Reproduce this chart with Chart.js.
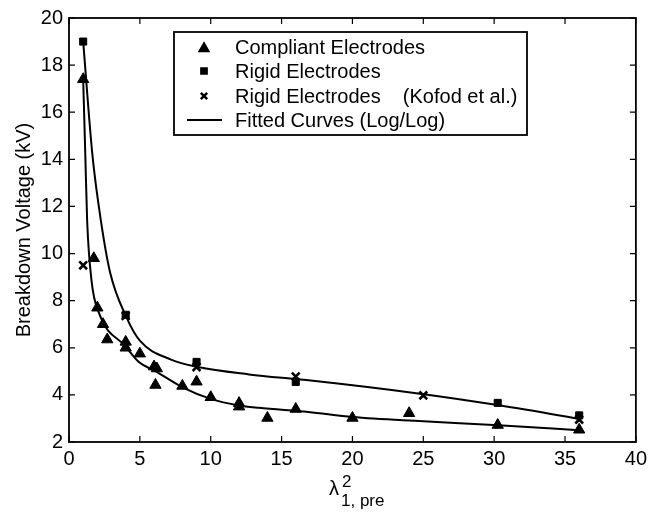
<!DOCTYPE html>
<html>
<head>
<meta charset="utf-8">
<script src="https://cdn.jsdelivr.net/npm/chart.js@4.4.1/dist/chart.umd.min.js"></script>
<style>
  html, body { margin: 0; padding: 0; background: #fff; }
  #wrap { width: 652px; height: 512px; }
</style>
</head>
<body>
<div id="wrap"><canvas id="chart" width="652" height="512"></canvas></div>
<script>
// measured points, compliant electrodes (triangles)
const compliantX = [1, 1.75, 2, 2.4, 2.7, 4, 4, 5, 6, 6.2, 6.1, 8, 9, 10, 12, 12, 14, 16, 20, 24, 30.25, 36];
const compliantY = [17.4, 9.8, 7.7, 7.0, 6.35, 6.25, 6.0, 5.75, 5.2, 5.12, 4.42, 4.38, 4.56, 3.9, 3.65, 3.5, 3.02, 3.4, 3.02, 3.22, 2.72, 2.52];

// rigid electrodes (squares)
const rigidX = [1, 4, 9, 16, 30.25, 36];
const rigidY = [19.0, 7.4, 5.4, 4.55, 3.66, 3.13];

// rigid electrodes, Kofod et al. (crosses)
const kofodX = [1, 4, 9, 16, 25, 36];
const kofodY = [9.5, 7.35, 5.18, 4.78, 3.98, 2.95];

// fitted curves
const upperFitX = [1, 1.65, 2.25, 2.9, 4.05, 5.0, 7.2, 9.1, 12.7, 16.9, 24.9, 30, 36];
const upperFitY = [19.0, 14.2, 11.4, 9.2, 7.3, 6.3, 5.5, 5.18, 4.87, 4.62, 4.04, 3.59, 2.99];
const lowerFitX = [1, 1.15, 1.28, 1.6, 2.1, 4.0, 5.0, 6.0, 8.05, 10.0, 12.0, 13.4, 16.9, 20, 25, 30.3, 36];
const lowerFitY = [17.4, 14.2, 11.4, 8.8, 7.5, 6.05, 5.36, 5.04, 4.31, 3.83, 3.55, 3.45, 3.27, 3.06, 2.88, 2.71, 2.5];

const xTicks = [0, 5, 10, 15, 20, 25, 30, 35, 40];
const yTicks = [2, 4, 6, 8, 10, 12, 14, 16, 18, 20];

const legendLabels = ['Compliant Electrodes', 'Rigid Electrodes', 'Rigid Electrodes    (Kofod et al.)', 'Fitted Curves (Log/Log)'];

const FONT = '"Liberation Sans", Arial, Helvetica, sans-serif';

function pts(xs, ys) {
    return xs.map((x, i) => ({ x: x, y: ys[i] }));
}

// frame, inward ticks, legend box and axis titles (matlab look)
const decorations = {
    id: 'decorations',
    afterDraw(chart) {
        const ctx = chart.ctx;
        const a = chart.chartArea;
        const sx = chart.scales.x, sy = chart.scales.y;
        ctx.save();
        ctx.strokeStyle = '#000';
        ctx.lineWidth = 1.8;
        ctx.strokeRect(a.left, a.top, a.right - a.left, a.bottom - a.top);

        const tl = 6;
        ctx.lineWidth = 1.2;
        ctx.beginPath();
        xTicks.forEach(v => {
            const px = sx.getPixelForValue(v);
            ctx.moveTo(px, a.bottom); ctx.lineTo(px, a.bottom - tl);
            ctx.moveTo(px, a.top); ctx.lineTo(px, a.top + tl);
        });
        yTicks.forEach(v => {
            const py = sy.getPixelForValue(v);
            ctx.moveTo(a.left, py); ctx.lineTo(a.left + tl, py);
            ctx.moveTo(a.right, py); ctx.lineTo(a.right - tl, py);
        });
        ctx.stroke();

        // legend
        const lx = 174, ly = 32, lw = 353, lh = 103;
        ctx.fillStyle = '#fff';
        ctx.fillRect(lx, ly, lw, lh);
        ctx.lineWidth = 1.8;
        ctx.strokeRect(lx, ly, lw, lh);
        const rowY = [47, 71, 96, 120];
        const mx = 204;
        ctx.fillStyle = '#000';
        ctx.strokeStyle = '#000';
        Chart.helpers.drawPoint(ctx, { pointStyle: 'triangle', radius: 5.5, borderWidth: 1 }, mx, rowY[0] + 1.5);
        Chart.helpers.drawPoint(ctx, { pointStyle: 'rect', radius: 4.2, borderWidth: 1 }, mx, rowY[1]);
        ctx.lineWidth = 2.4;
        Chart.helpers.drawPoint(ctx, { pointStyle: 'crossRot', radius: 4.5, borderWidth: 2.4 }, mx, rowY[2]);
        ctx.lineWidth = 1.8;
        ctx.beginPath();
        ctx.moveTo(187, rowY[3]); ctx.lineTo(222, rowY[3]);
        ctx.stroke();
        ctx.font = '20px ' + FONT;
        ctx.textBaseline = 'middle';
        ctx.textAlign = 'left';
        legendLabels.forEach((t, i) => ctx.fillText(t, 235, rowY[i] + 1));

        // y title
        ctx.save();
        ctx.translate(24, (a.top + a.bottom) / 2);
        ctx.rotate(-Math.PI / 2);
        ctx.textAlign = 'center';
        ctx.textBaseline = 'middle';
        ctx.fillText('Breakdown Voltage (kV)', 0, 0);
        ctx.restore();

        // x title: lambda squared, sub 1, pre
        ctx.textAlign = 'left';
        ctx.textBaseline = 'alphabetic';
        ctx.font = '20px ' + FONT;
        ctx.fillText('λ', 329, 495);
        ctx.font = '17px ' + FONT;
        ctx.fillText('2', 342, 487);
        ctx.fillText('1, pre', 341, 506);
        ctx.restore();
    }
};

const lineStyle = {
    showLine: true,
    pointRadius: 0,
    borderColor: '#000',
    borderWidth: 2,
    cubicInterpolationMode: 'monotone',
    fill: false
};

new Chart(document.getElementById('chart'), {
    type: 'scatter',
    data: {
        datasets: [
            Object.assign({ label: 'fit upper', data: pts(upperFitX, upperFitY) }, lineStyle),
            Object.assign({ label: 'fit lower', data: pts(lowerFitX, lowerFitY) }, lineStyle),
            {
                label: legendLabels[0],
                data: pts(compliantX, compliantY),
                pointStyle: 'triangle',
                pointRadius: 6.5,
                backgroundColor: '#000',
                borderColor: '#000',
                borderWidth: 1
            },
            {
                label: legendLabels[1],
                data: pts(rigidX, rigidY),
                pointStyle: 'rect',
                pointRadius: 5,
                backgroundColor: '#000',
                borderColor: '#000',
                borderWidth: 1
            },
            {
                label: legendLabels[2],
                data: pts(kofodX, kofodY),
                pointStyle: 'crossRot',
                pointRadius: 5.5,
                backgroundColor: '#000',
                borderColor: '#000',
                borderWidth: 2.6
            }
        ]
    },
    options: {
        responsive: false,
        animation: false,
        layout: { padding: { top: 12, right: 13, left: 0, bottom: 0 } },
        plugins: { legend: { display: false }, tooltip: { enabled: false } },
        scales: {
            x: {
                type: 'linear', min: 0, max: 40,
                grid: { display: false, drawTicks: false },
                border: { display: false },
                afterFit: s => { s.height = 70; },
                afterBuildTicks: s => { s.ticks = xTicks.map(v => ({ value: v })); },
                ticks: { color: '#000', padding: 5, maxRotation: 0, font: { size: 20, family: FONT } }
            },
            y: {
                type: 'linear', min: 2, max: 20,
                grid: { display: false, drawTicks: false },
                border: { display: false },
                afterFit: s => { s.width = 69; },
                afterBuildTicks: s => { s.ticks = yTicks.map(v => ({ value: v })); },
                ticks: { color: '#000', padding: 6, font: { size: 20, family: FONT } }
            }
        }
    },
    plugins: [decorations]
});
</script>
</body>
</html>
